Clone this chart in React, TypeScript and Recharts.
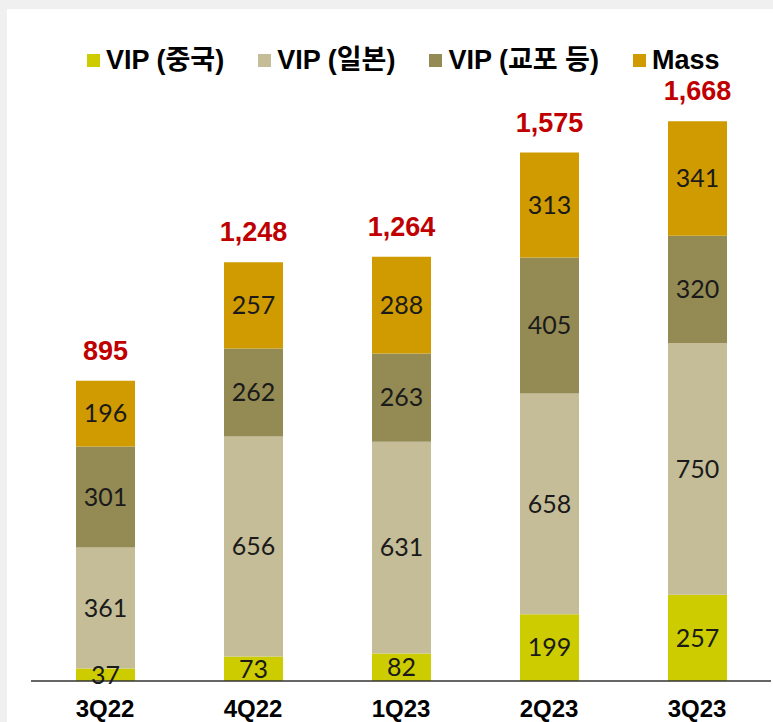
import React from 'react';
import { BarChart, Bar, XAxis, YAxis, LabelList } from 'recharts';

// quarterly sales by customer segment (stacked), totals on top
const quarters = ['3Q22', '4Q22', '1Q23', '2Q23', '3Q23'];
const vipChina = [37, 73, 82, 199, 257];
const vipJapan = [361, 656, 631, 658, 750];
const vipKyopo = [301, 262, 263, 405, 320];
const mass = [196, 257, 288, 313, 341];
const totals = [895, 1248, 1264, 1575, 1668];

const series = [
  { key: 'china', name: 'VIP (중국)', color: '#CCCC00' },
  { key: 'japan', name: 'VIP (일본)', color: '#C4BD97' },
  { key: 'kyopo', name: 'VIP (교포 등)', color: '#948A54' },
  { key: 'mass', name: 'Mass', color: '#CF9B00' },
];

const chartData = quarters.map((q, i) => ({
  quarter: q,
  china: vipChina[i],
  japan: vipJapan[i],
  kyopo: vipKyopo[i],
  mass: mass[i],
  total: totals[i],
}));

const BOLD_FONT = "'Liberation Sans', Arial, 'Noto Sans CJK KR', sans-serif";
const VALUE_FONT = "Lato, 'Noto Sans', sans-serif";

// legend sits above the plot, drawn as plain html
function TopLegend() {
  return (
    <div style={{ position: 'absolute', left: 87, top: 45, display: 'flex', gap: 34, fontFamily: BOLD_FONT }}>
      {series.map((s) => (
        <div key={s.key} style={{ display: 'flex', alignItems: 'center' }}>
          <span style={{ width: 13, height: 13, background: s.color, marginRight: 6 }} />
          <span style={{ fontSize: 27, fontWeight: 700, color: '#000', lineHeight: '30px', whiteSpace: 'nowrap' }}>{s.name}</span>
        </div>
      ))}
    </div>
  );
}

function QuarterTick(props: any) {
  const { x, y, payload } = props;
  return (
    <text x={x} y={y + 19} textAnchor="middle" dominantBaseline="central"
      fontFamily={BOLD_FONT} fontSize={24} fontWeight={700} fill="#000">
      {payload.value}
    </text>
  );
}

function TotalLabel(props: any) {
  const { x, y, width, value } = props;
  return (
    <text x={x + width / 2} y={y - 30} textAnchor="middle" dominantBaseline="central"
      fontFamily={BOLD_FONT} fontSize={27} fontWeight={700} fill="#C00000">
      {Number(value).toLocaleString('en-US')}
    </text>
  );
}

export default function App() {
  return (
    <div style={{ position: 'absolute', left: 0, top: 0, width: 773, height: 722, background: '#F0F0F0', overflow: 'hidden' }}>
      <div style={{ position: 'absolute', left: 7, top: 9, width: 766, height: 713, background: '#FFFFFF' }}>
        <BarChart
          width={766}
          height={713}
          data={chartData}
          margin={{ top: 68, right: 2, left: 24, bottom: 11 }}
          barSize={59}
        >
          <XAxis
            dataKey="quarter"
            height={30}
            tickLine={false}
            axisLine={{ stroke: '#333333', strokeWidth: 1.5 }}
            tick={<QuarterTick />}
            interval={0}
          />
          <YAxis hide domain={[0, 1800]} />
          {series.map((s, idx) => (
            <Bar key={s.key} dataKey={s.key} name={s.name} stackId="a" fill={s.color} isAnimationActive={false}>
              <LabelList dataKey={s.key} position="center" fill="#1A1A1A"
                style={{ fontFamily: VALUE_FONT, fontSize: 25 }} />
              {idx === series.length - 1 && (
                <LabelList dataKey="total" content={<TotalLabel />} />
              )}
            </Bar>
          ))}
        </BarChart>
      </div>
      <TopLegend />
    </div>
  );
}
